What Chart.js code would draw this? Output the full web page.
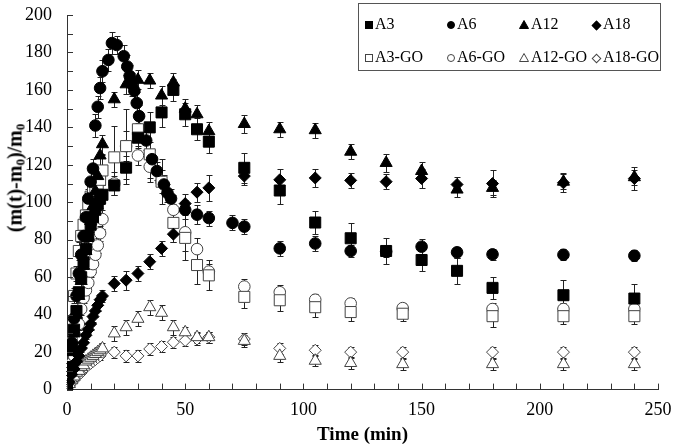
<!DOCTYPE html>
<html>
<head>
<meta charset="utf-8">
<script src="https://cdn.jsdelivr.net/npm/chart.js@4.4.1/dist/chart.umd.min.js"></script>
<style>
body { margin: 0; background: #fff; }
#wrap { position: relative; width: 675px; height: 446px; }
#ytitle { position: absolute; left: 16px; top: 178px; transform: translate(-50%, -50%) rotate(-90deg);
  font: bold 20px "Liberation Serif", serif; white-space: nowrap; color: #000; }
#ytitle sub { font-size: 13px; vertical-align: -3px; }
#legend { position: absolute; left: 358px; top: 3px; width: 303px; height: 68px; border: 1px solid #555;
  box-sizing: border-box; font: 16px "Liberation Serif", serif; color: #000; }
.item { position: absolute; white-space: nowrap; line-height: 16px; }
.mk { display: inline-block; box-sizing: border-box; margin-right: 2px; vertical-align: 0px; }
</style>
</head>
<body>
<div id="wrap">
  <canvas id="myChart" width="675" height="446"></canvas>
  <div id="ytitle">(m(t)-m<sub>0</sub>)/m<sub>0</sub></div>
  <div id="legend"></div>
</div>
<script>
// series names
var names = ["A3", "A6", "A12", "A18", "A3-GO", "A6-GO", "A12-GO", "A18-GO"];

// time points (min)
var tA3 = [0,1,2,3,4,5,6,7,8,9,10,11,12,13,14,15,20,25,30,35,40,45,50,55,60,75,90,105,120,135,150,165,180,210,240];
var tA6 = [0,1,2,3,4,5,6,7,8,9,10,11,12,13,14,15,17.5,19,21,24,25.5,26.5,27.5,28.5,29.5,30.5,33.5,36,38,41,42.5,44,50,55,60,70,75,90,105,120,135,150,165,180,210,240];
var tA12 = [0,1,2,3,4,5,6,7,8,9,10,11,12,13,14,15,20,25,30,35,40,45,50,55,60,75,90,105,120,135,150,165,180,210,240];
var tA18 = [0,1,2,3,4,5,6,7,8,9,10,11,12,13,14,15,20,25,30,35,40,45,50,55,60,75,90,105,120,135,150,165,180,210,240];
var tGO = [0,1,2,3,4,5,6,7,8,9,10,11,12,13,14,15,20,25,30,35,40,45,50,55,60,75,90,105,120,142,180,210,240];

// (m(t)-m0)/m0 values
var A3 = [0,10,22,32,42,52,60,68,75,82,88,92,96,99,102,104,109,118.5,134.5,140,148,160,147,139,132.4,118.4,106.3,89.2,80.8,74,69.2,63.4,54.3,50.4,48.6];
var A6 = [0,12,25,38,50,62,72,82,92,102,111,118,141,151,161,170,176,185,184,178,172.5,167.5,163,159.5,153,146,133,123,116.7,109.5,105,102,96,93.4,91.6,89,87,75.4,78,74,73.7,76.3,73.3,72.2,72,71.5];
var A12 = [0,10,20,30,40,50,58,66,74,82,90,98,106,114,125,131,155,163,165.4,165,157,164,150,147,138,141.8,139,138.5,127,121,116.7,106.8,107.7,111,113.4];
var A18 = [0,4,8,11,15,18,22,25,29,32,35,39,42,45,48,50,56.6,58.4,62,68.3,75.4,83,99.3,105.4,107.7,114,112,113,111.7,111,112.7,109.5,110,110.4,112.7];
var A3GO = [0,12,25,50,62,74,82,88,93,99,103,106,108,110,112,117,124,130,139,125.6,111,89,81,66.5,61,49.5,47.7,44,41.4,40.5,39.2,39.2,39.2];
var A6GO = [0,9,14,18,28,35,43,49,53,57,63,67,72,77,83.5,91,110,130,125,119,111,96,84,75,63,55,52,48,46,43.5,43,43,43];
var A12GO = [0,3,5,7,9,10,12,13,15,16,17,18,19,20,21,22,30,33.3,37.8,44,41,33.3,30.6,28,28,26,18,15.4,14.2,13.6,13.6,13.6,13.6];
var A18GO = [0,2,4,5,7,8,9,11,12,13,14,15,16,17,18,20,20,18,18,21.7,23,25.3,26.2,27,28,27,22,21,20,20,20,20,20];

// standard deviations (error bars)
var eA3 = [0,2,2,3,3,3,3,4,4,4,4,4,5,5,5,5,5,6,8,8,8,6,6,6,6,8,7,6,8,7,6,7,6,8,8];
var eA6 = [0,2,3,3,4,4,4,4,5,5,5,5,6,6,6,6,6,6,5,6,6,6,6,6,6,6,5,5,5,5,5,5,5,5,4,4,4,4,4,3,3,4,3,3,3,3,3];
var eA12 = [0,2,2,3,3,3,3,4,4,4,4,4,5,5,5,5,4,5,5,4,5,5,5,5,5,5,4,4,4,5,5,4,4,4,4];
var eA18 = [0,1,1,2,2,2,2,2,2,2,3,3,3,3,3,3,4,5,4,4,4,4,5,5,7,5,6,5,4,4,5,4,7,5,6];
var eA3GO = [0,2,3,4,4,5,5,5,5,6,6,6,6,7,7,8,17,20,10,15,12,10,12,10,8,6,6,5,5,4,6,4,4];
var eA6GO = [0,1,2,2,2,3,3,3,3,3,3,4,4,4,4,5,6,8,5,6,6,8,10,6,4,4,4,3,3,3,3,3,3];
var eA12GO = [0,1,1,1,1,2,2,2,2,2,2,2,2,2,2,3,4,4,4,4,4,4,3,3,3,3,3,3,3,3,3,3,3];
var eA18GO = [0,1,1,1,1,1,1,1,1,1,1,1,1,1,2,2,3,3,3,3,3,3,3,3,3,3,3,3,3,3,3,3,3];

function pts(t, v, e) {
    return t.map(function (x, i) { return { x: x, y: v[i], e: e[i] || 0 }; });
}

var series = [
    { data: pts(tA3, A3, eA3), style: 'rect', r: 7.8, open: false },
    { data: pts(tA6, A6, eA6), style: 'circle', r: 5.8, open: false },
    { data: pts(tA12, A12, eA12), style: 'triangle', r: 7, open: false },
    { data: pts(tA18, A18, eA18), style: 'rectRot', r: 6, open: false },
    { data: pts(tGO, A3GO, eA3GO), style: 'rect', r: 7.8, open: true },
    { data: pts(tGO, A6GO, eA6GO), style: 'circle', r: 5.8, open: true },
    { data: pts(tGO, A12GO, eA12GO), style: 'triangle', r: 7, open: true },
    { data: pts(tGO, A18GO, eA18GO), style: 'rectRot', r: 6, open: true }
];

var errorBars = {
    id: 'errorBars',
    beforeDatasetsDraw: function (chart) {
        var ctx = chart.ctx, xs = chart.scales.x, ys = chart.scales.y;
        ctx.save();
        ctx.strokeStyle = '#222';
        ctx.lineWidth = 1;
        chart.data.datasets.forEach(function (ds) {
            ds.data.forEach(function (p) {
                if (!p.e) return;
                var px = Math.round(xs.getPixelForValue(p.x)) + 0.5;
                var top = Math.round(ys.getPixelForValue(p.y + p.e)) + 0.5;
                var bot = Math.round(ys.getPixelForValue(p.y - p.e)) + 0.5;
                ctx.beginPath();
                ctx.moveTo(px, top); ctx.lineTo(px, bot);
                ctx.moveTo(px - 3, top); ctx.lineTo(px + 3, top);
                ctx.moveTo(px - 3, bot); ctx.lineTo(px + 3, bot);
                ctx.stroke();
            });
        });
        ctx.restore();
    }
};

// tick marks pointing into the plot
var inTicks = {
    id: 'inTicks',
    afterDraw: function (chart) {
        var ctx = chart.ctx, xs = chart.scales.x, ys = chart.scales.y, a = chart.chartArea;
        ctx.save();
        ctx.strokeStyle = '#333';
        ctx.lineWidth = 1;
        ctx.beginPath();
        xs.ticks.forEach(function (t) {
            var px = Math.round(xs.getPixelForValue(t.value)) + 0.5;
            ctx.moveTo(px, a.bottom); ctx.lineTo(px, a.bottom - 6);
        });
        ys.ticks.forEach(function (t) {
            var py = Math.round(ys.getPixelForValue(t.value)) + 0.5;
            ctx.moveTo(a.left, py); ctx.lineTo(a.left + 6, py);
        });
        ctx.stroke();
        ctx.restore();
    }
};

var tickFont = { family: '"Liberation Serif", serif', size: 18 };

new Chart(document.getElementById('myChart').getContext('2d'), {
    type: 'scatter',
    data: {
        datasets: series.map(function (s, i) {
            return {
                label: names[i],
                data: s.data,
                pointStyle: s.style,
                pointRadius: s.r,
                pointHoverRadius: s.r,
                pointBorderWidth: 1,
                backgroundColor: s.open ? '#fff' : '#000',
                borderColor: s.open ? '#444' : '#000'
            };
        })
    },
    options: {
        responsive: false,
        animation: false,
        devicePixelRatio: 1,
        layout: { padding: { left: 10, right: 0, top: 0, bottom: 0 } },
        plugins: { legend: { display: false }, tooltip: { enabled: false } },
        scales: {
            x: {
                type: 'linear', min: 0, max: 250,
                border: { display: true, color: '#333', width: 1 },
                grid: { display: true, drawOnChartArea: false, drawTicks: false },
                ticks: {
                    stepSize: 10, autoSkip: false, maxRotation: 0, padding: 10, color: '#000', font: tickFont,
                    callback: function (v) { return v % 50 === 0 ? v : ''; }
                },
                afterFit: function (s) { s.paddingRight = 17; },
                title: { display: true, text: 'Time (min)', color: '#000', padding: { top: -8, bottom: 0 },
                    font: { family: '"Liberation Serif", serif', size: 19, weight: 'bold' } }
            },
            y: {
                type: 'linear', min: 0, max: 200,
                border: { display: true, color: '#333', width: 1 },
                grid: { display: true, drawOnChartArea: false, drawTicks: false },
                ticks: {
                    stepSize: 10, autoSkip: false, padding: 15, color: '#000', font: tickFont,
                    callback: function (v) { return v % 20 === 0 ? v : ''; }
                },
                afterFit: function (s) { s.paddingTop = 15; }
            }
        }
    },
    plugins: [errorBars, inTicks]
});

// legend (two rows of four)
var legendPos = [[6, 12], [88, 12], [160, 12], [233, 12], [6, 45], [88, 45], [160, 45], [233, 45]];
var legend = document.getElementById('legend');
names.forEach(function (n, i) {
    var s = series[i];
    var it = document.createElement('div');
    it.className = 'item';
    it.style.left = legendPos[i][0] + 'px';
    it.style.top = legendPos[i][1] + 'px';
    var mk = document.createElement('span');
    mk.className = 'mk';
    var c = s.open ? '#444' : '#000';
    if (s.style === 'rect' || s.style === 'circle' || s.style === 'rectRot') {
        mk.style.width = '8px'; mk.style.height = '8px';
        mk.style.background = s.open ? '#fff' : '#000';
        mk.style.border = '1px solid ' + c;
        if (s.style === 'circle') mk.style.borderRadius = '50%';
        if (s.style === 'rectRot') { mk.style.width = '7px'; mk.style.height = '7px'; mk.style.transform = 'rotate(45deg)'; mk.style.marginLeft = '1px'; mk.style.marginRight = '3px'; }
    } else {
        mk.innerHTML = '<svg width="10" height="9" viewBox="0 0 10 9"><polygon points="5,0.5 9.5,8.5 0.5,8.5" fill="' + (s.open ? '#fff' : '#000') + '" stroke="' + c + '" stroke-width="1"/></svg>';
    }
    it.appendChild(mk);
    it.appendChild(document.createTextNode(n));
    legend.appendChild(it);
});
</script>
</body>
</html>
